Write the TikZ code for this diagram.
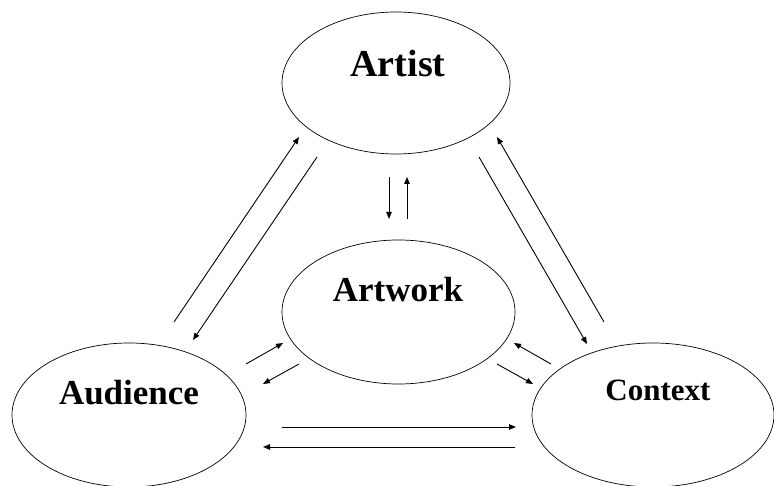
\documentclass[tikz,border=0pt]{standalone}
\usepackage{fontspec}
\setmainfont{Liberation Serif}
\usetikzlibrary{shapes.geometric,arrows.meta}
\begin{document}
\begin{tikzpicture}[x=1pt,y=-1pt,
  oval/.style={draw,ellipse,line width=0.7pt,inner sep=0pt},
  lbl/.style={anchor=base,font=\bfseries,inner sep=0pt},
  flow/.style={line width=0.9pt,-{Triangle[length=7pt,width=5.5pt]}}]
  \useasboundingbox (0,0) rectangle (774,486);

  % the four ovals
  \node[oval,minimum width=228pt,minimum height=142pt] (artist)   at (396,83)  {};
  \node[oval,minimum width=233pt,minimum height=144pt] (artwork)  at (398.5,312) {};
  \node[oval,minimum width=234pt,minimum height=144pt] (audience) at (129,415) {};
  \node[oval,minimum width=242pt,minimum height=144pt] (context)  at (653,415) {};

  % their titles
  \node[lbl,font=\bfseries\fontsize{38}{40}\selectfont] (artistlbl)   at (398,77)  {Artist};
  \node[lbl,font=\bfseries\fontsize{35}{37}\selectfont] (artworklbl)  at (398,302) {Artwork};
  \node[lbl,font=\bfseries\fontsize{35}{37}\selectfont] (audiencelbl) at (129,404) {Audience};
  \node[lbl,font=\bfseries\fontsize{31}{33}\selectfont] (contextlbl)  at (658,400) {Context};

  % arrow end points
  \coordinate (au1s) at (174,322); \coordinate (au1e) at (299,137);
  \coordinate (au2s) at (317,157); \coordinate (au2e) at (193,340);
  \coordinate (aw1s) at (389,177); \coordinate (aw1e) at (389,219);
  \coordinate (aw2s) at (407,219); \coordinate (aw2e) at (407,177);
  \coordinate (co1s) at (479,157); \coordinate (co1e) at (587,344);
  \coordinate (co2s) at (604,322); \coordinate (co2e) at (497,137);
  \coordinate (la1s) at (246,364); \coordinate (la1e) at (283,343);
  \coordinate (la2s) at (299,364); \coordinate (la2e) at (263,384);
  \coordinate (ra1s) at (551,364); \coordinate (ra1e) at (514,343);
  \coordinate (ra2s) at (497,364); \coordinate (ra2e) at (533,384);
  \coordinate (bo1s) at (282,427); \coordinate (bo1e) at (516,427);
  \coordinate (bo2s) at (515,447); \coordinate (bo2e) at (263,447);

  % connectors
  \draw[flow] (au1s) -- (au1e);
  \draw[flow] (au2s) -- (au2e);
  \draw[flow] (aw1s) -- (aw1e);
  \draw[flow] (aw2s) -- (aw2e);
  \draw[flow] (co1s) -- (co1e);
  \draw[flow] (co2s) -- (co2e);
  \draw[flow] (la1s) -- (la1e);
  \draw[flow] (la2s) -- (la2e);
  \draw[flow] (ra1s) -- (ra1e);
  \draw[flow] (ra2s) -- (ra2e);
  \draw[flow] (bo1s) -- (bo1e);
  \draw[flow] (bo2s) -- (bo2e);
\end{tikzpicture}
\end{document}
